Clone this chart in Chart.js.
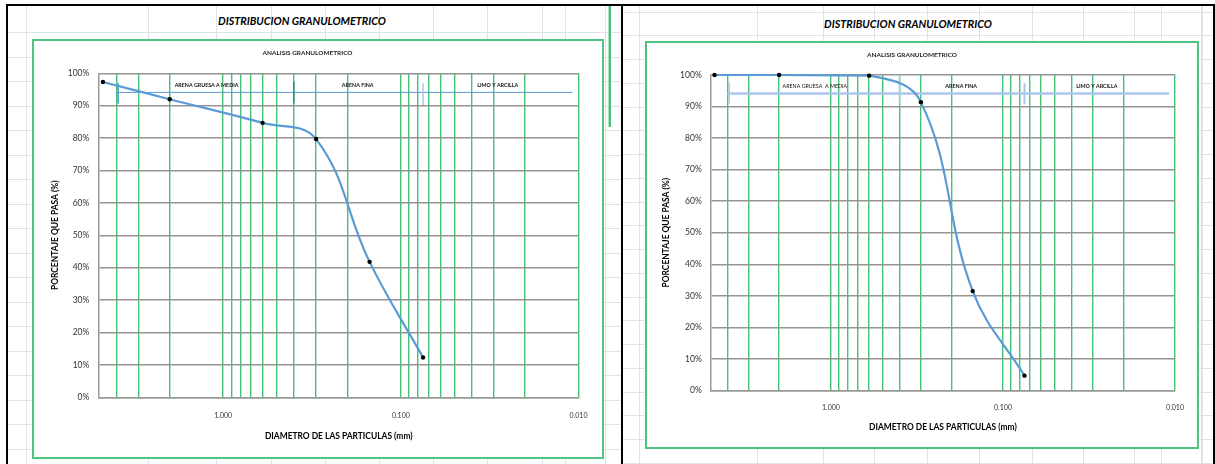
<!DOCTYPE html>
<html><head><meta charset="utf-8">
<script src="https://cdn.jsdelivr.net/npm/chart.js@4.4.1/dist/chart.umd.min.js"></script>
<style>
html,body{margin:0;padding:0;background:#fff;}
body{width:1215px;height:464px;position:relative;overflow:hidden;font-family:Lato,"Liberation Sans",sans-serif;}
.ln{position:absolute;background:#dde2eb;}
.blk{position:absolute;background:#000;}
.frame{position:absolute;box-sizing:border-box;border:2px solid #4fc47e;background:#fff;}
.frame canvas{position:absolute;left:0;top:0;}
.sheet-title{position:absolute;font-weight:bold;font-style:italic;color:#000;white-space:nowrap;transform:translate(-50%,-50%);line-height:1;}
</style></head><body>
<div id="grid"></div>
<div class="sheet-title" id="titleL" style="left:302px;top:21px">DISTRIBUCION GRANULOMETRICO</div>
<div class="sheet-title" id="titleR" style="left:908px;top:24px">DISTRIBUCION GRANULOMETRICO</div>
<div class="frame" style="left:32px;top:39px;width:572px;height:420px"><canvas id="cL" width="568" height="416"></canvas></div>
<div class="frame" style="left:645px;top:41px;width:554px;height:408px"><canvas id="cR" width="550" height="404"></canvas></div>
<script>
// ---------------- DATA ----------------
const sieveSizes   = [4.75, 2.00, 0.600, 0.300, 0.150, 0.075];   // mm
const passingLeft  = [97.3, 92.0, 84.7, 79.7, 41.8, 12.3];       // %
const passingRight = [100.0, 100.0, 99.8, 91.4, 31.5, 4.7];      // %
const xLabelValues = [1, 0.1, 0.01];
const xGridValues  = [4, 3, 2, 1, 0.9, 0.8, 0.7, 0.6, 0.5, 0.4, 0.3, 0.2,
                      0.1, 0.09, 0.08, 0.07, 0.06, 0.05, 0.04, 0.03, 0.02, 0.01];
const zoneNamesLeft  = ['ARENA GRUESA A MEDIA', 'ARENA FINA', 'LIMO Y ARCILLA'];
const zoneNamesRight = ['ARENA GRUESA  A MEDIA', 'ARENA FINA', 'LIMO Y ARCILLA'];
const zoneLabelDiam  = [1.24, 0.175, 0.0285];
const zoneLabelPct   = 96.4;
const zoneLinePct    = 94.1;
const zoneLineRange  = [4.0, 0.0108];
const zoneBoundaries = [3.9, 0.4, 0.075];
const dividerTopLeft     = [96.9, 97.4, 96.9];
const dividerBottomLeft  = [90.7, 90.7, 90.2];
const dividerTopRight    = [97.6, 100.0, 97.4];
const dividerBottomRight = [91.0, 90.7, 90.7];

// ---------------- spreadsheet background ----------------
const grid = document.getElementById('grid');
function addDiv(cls, l, t, w, h, bg){
  const d = document.createElement('div'); d.className = cls;
  d.style.left = l+'px'; d.style.top = t+'px'; d.style.width = w+'px'; d.style.height = h+'px';
  if (bg) d.style.background = bg;
  grid.appendChild(d);
}
const colsL = [26,148,216,271,325,379,433,487,542,565,605];
const colsR = [639,757,823,874,927,979,1032,1083,1134,1161,1201];
colsL.forEach(x => addDiv('ln', x, 6, 1, 458));
colsR.forEach(x => addDiv('ln', x, 6, 1, 458));
addDiv('ln', 1202, 6, 1, 458);
for (let y = 32; y < 464; y += 24.5) addDiv('ln', 8, Math.round(y), 613, 1);
for (let y = 11.7; y < 464; y += 23.75) addDiv('ln', 623, Math.round(y), 590, 1);
addDiv('ln', 608, 6, 3, 121, 'linear-gradient(to right,#a8e3bf 0 1px,#48c27a 1px 3px)');
addDiv('blk', 6, 4, 1209, 2);
addDiv('blk', 6, 4, 2, 460);
addDiv('blk', 621, 4, 2, 460);
addDiv('blk', 1213, 4, 2, 460);

// ---------------- fonts ----------------
const FAM = 'Lato';
Chart.defaults.font.family = 'Lato, "Liberation Sans", sans-serif';
function fit(text, target, weight, style){
  const c = document.createElement('canvas').getContext('2d');
  c.font = (style||'normal') + ' ' + (weight||'normal') + ' 100px ' + FAM;
  return +(100 * target / c.measureText(text).width).toFixed(2);
}
const sheetTitleSize = fit('DISTRIBUCION GRANULOMETRICO', 168, 'bold', 'italic');
document.getElementById('titleL').style.fontSize = sheetTitleSize + 'px';
document.getElementById('titleR').style.fontSize = sheetTitleSize + 'px';
const chartTitleSize = fit('ANALISIS GRANULOMETRICO', 90, 'bold');
const yTickSize = fit('100%', 21.6);
const xTickSize = fit('1.000', 18);
const axisTitleSize = fit('DIAMETRO DE LAS PARTICULAS (mm)', 148, 'bold');
const zoneSize = fit('ARENA GRUESA A MEDIA', 64, 'bold');

// ---------------- plugin: zone labels ----------------
const zoneLabels = {
  id: 'zoneLabels',
  afterDatasetsDraw(chart, args, opts){
    const {ctx, scales:{x, y}} = chart;
    ctx.save();
    ctx.fillStyle = '#111';
    ctx.textAlign = 'center';
    ctx.textBaseline = 'middle';
    opts.names.forEach((t, i) => {
      ctx.font = (opts.weights[i]) + ' ' + zoneSize + 'px ' + FAM;
      ctx.fillText(t, x.getPixelForValue(zoneLabelDiam[i]), y.getPixelForValue(zoneLabelPct));
    });
    ctx.restore();
  }
};

function buildChart(id, pass, L){
  const lhT = chartTitleSize * 1.2;
  const ptTitle = L.titleCY - lhT / 2;
  const pbTitle = L.top - ptTitle - lhT;
  const lhX = xTickSize * 1.2;
  const xTickPad = L.xTickCY - L.bottom - lhX / 2;
  const lhA = axisTitleSize * 1.2;
  const xTitlePadB = L.H - L.xTitleCY - lhA / 2;
  const yTitlePadT = L.yTitleCX - lhA / 2;
  const yTickPad = L.left - L.yTickRight;

  const datasets = [{
    data: sieveSizes.map((s, i) => ({x: s, y: pass[i]})),
    borderColor: '#5b9bd5', borderWidth: 2.2, tension: 0.4,
    pointRadius: 2.2, pointBackgroundColor: '#000', pointBorderColor: '#000', pointBorderWidth: 0,
    order: 0, clip: 4
  }, {
    data: zoneLineRange.map(d => ({x: d, y: zoneLinePct})),
    borderColor: L.zoneColor, borderWidth: L.zoneWidth, pointRadius: 0, order: 3
  }];
  zoneBoundaries.forEach((d, i) => datasets.push({
    data: [{x: d, y: L.divTop[i]}, {x: d, y: L.divBottom[i]}],
    borderColor: L.divColors[i], borderWidth: L.divWidths[i], pointRadius: 0, order: 2
  }));

  return new Chart(document.getElementById(id), {
    type: 'line',
    data: {datasets},
    plugins: [zoneLabels],
    options: {
      responsive: false, animation: false, events: [],
      layout: {padding: {left: 0, right: L.W - L.right, top: 0, bottom: 0}},
      plugins: {
        legend: {display: false}, tooltip: {enabled: false},
        title: {display: true, text: 'ANALISIS GRANULOMETRICO', color: '#262626',
                font: {size: chartTitleSize, weight: 'bold', lineHeight: 1.2},
                padding: {top: ptTitle, bottom: pbTitle}},
        zoneLabels: {names: L.names, weights: L.weights}
      },
      scales: {
        x: {
          type: 'logarithmic', reverse: true, min: 0.01, max: 5,
          afterBuildTicks: s => { s.ticks = xGridValues.map(v => ({value: v})); },
          afterFit: s => { s.height = L.H - L.bottom; },
          grid: {color: '#45c077', lineWidth: 1.4, drawTicks: false},
          border: {display: true, color: '#9a9a9a', width: 1.5},
          ticks: {autoSkip: false, maxRotation: 0, minRotation: 0, padding: xTickPad,
                  color: '#333', font: {size: xTickSize, lineHeight: 1.2},
                  callback: v => xLabelValues.includes(v) ? v.toFixed(3) : ''},
          title: {display: true, text: 'DIAMETRO DE LAS PARTICULAS (mm)', color: '#000',
                  font: {size: axisTitleSize, weight: 'bold', lineHeight: 1.2},
                  padding: {top: 0, bottom: xTitlePadB}}
        },
        y: {
          type: 'linear', min: 0, max: 100,
          afterFit: s => { s.width = L.left; },
          grid: {color: '#949494', lineWidth: 1.5, drawTicks: false},
          border: {display: true, color: '#9a9a9a', width: 1.5},
          ticks: {stepSize: 10, padding: yTickPad, color: '#333',
                  font: {size: yTickSize, lineHeight: 1.2}, callback: v => v + '%'},
          title: {display: true, text: 'PORCENTAJE QUE PASA (%)', color: '#000',
                  font: {size: axisTitleSize, weight: 'bold', lineHeight: 1.2},
                  padding: {top: yTitlePadT, bottom: 0}}
        }
      }
    }
  });
}

// canvas-space layout (canvas L at page 34,41 ; canvas R at page 647,43)
buildChart('cL', passingLeft, {
  W: 568, H: 416, left: 65, right: 547, top: 32.3, bottom: 356.3,
  titleCY: 12.3, yTickRight: 55.3, xTickCY: 375, xTitleCY: 395.7, yTitleCX: 21.5,
  names: zoneNamesLeft, weights: ['bold', 'bold', 'bold'],
  zoneColor: '#5b9bd5', zoneWidth: 1,
  divTop: dividerTopLeft, divBottom: dividerBottomLeft,
  divColors: ['#5b9bd5', '#2e8a80', '#a9c8ec'], divWidths: [1, 1.5, 1.5]
});
buildChart('cR', passingRight, {
  W: 550, H: 404, left: 63.7, right: 530, top: 32, bottom: 347.5,
  titleCY: 12, yTickRight: 54.7, xTickCY: 364.7, xTitleCY: 384.7, yTitleCX: 19.5,
  names: zoneNamesRight, weights: ['normal', 'bold', 'bold'],
  zoneColor: '#a9c8ec', zoneWidth: 2.5,
  divTop: dividerTopRight, divBottom: dividerBottomRight,
  divColors: ['#a9c8ec', '#a9c8ec', '#a9c8ec'], divWidths: [1.5, 1.5, 2]
});
</script>
</body></html>
